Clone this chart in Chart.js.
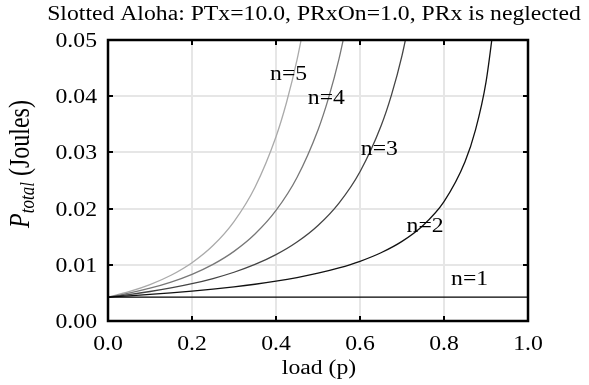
<!DOCTYPE html>
<html>
<head>
<meta charset="utf-8">
<script src="https://cdn.jsdelivr.net/npm/chart.js@4"></script>
<style>
html,body{margin:0;padding:0;background:#fff;}
#wrap{width:589px;height:385px;position:relative;}
</style>
</head>
<body>
<div id="wrap"><canvas id="c" width="589" height="385"></canvas></div>
<script>
// ---- data ----
const chartTitle = "Slotted Aloha: PTx=10.0, PRxOn=1.0, PRx is neglected";
const xTitle = "load (p)";
const seriesNames = ["n=1", "n=2", "n=3", "n=4", "n=5"];

const loadN1 = [0.0, 1.0];
const energyN1 = [0.00425, 0.00425];

const loadN2 = [0, 0.05, 0.1, 0.15, 0.2, 0.25, 0.3, 0.35, 0.4, 0.45, 0.5, 0.55, 0.6, 0.65, 0.7, 0.75, 0.8, 0.85, 0.875, 0.9, 0.925];
const energyN2 = [0.00425, 0.004474, 0.004722, 0.005, 0.005313, 0.005667, 0.006071, 0.006538, 0.007083, 0.007727, 0.0085, 0.009444, 0.010625, 0.012143, 0.014167, 0.017, 0.02125, 0.028333, 0.034, 0.0425, 0.05667];

const loadN3 = [0, 0.05, 0.1, 0.15, 0.2, 0.25, 0.3, 0.35, 0.4, 0.45, 0.5, 0.55, 0.6, 0.65, 0.675, 0.7, 0.725];
const energyN3 = [0.00425, 0.004709, 0.005247, 0.005882, 0.006641, 0.007556, 0.008673, 0.010059, 0.011806, 0.01405, 0.017, 0.020988, 0.026563, 0.034694, 0.040237, 0.047222, 0.056198];

const loadN4 = [0, 0.05, 0.1, 0.15, 0.2, 0.25, 0.3, 0.35, 0.4, 0.45, 0.5, 0.525, 0.55, 0.575];
const energyN4 = [0.00425, 0.004957, 0.00583, 0.00692, 0.008301, 0.010074, 0.012391, 0.015476, 0.019676, 0.025545, 0.034, 0.039656, 0.04664, 0.055363];

const loadN5 = [0, 0.05, 0.1, 0.15, 0.2, 0.25, 0.3, 0.35, 0.4, 0.425, 0.45, 0.475];
const energyN5 = [0.00425, 0.005218, 0.006478, 0.008142, 0.010376, 0.013432, 0.017701, 0.023809, 0.032793, 0.038879, 0.046445, 0.055944];

// label anchor points (data units) for the curve labels
const labelLoad = [0.861, 0.755, 0.646, 0.520, 0.430];
const labelEnergy = [0.00741, 0.01675, 0.03045, 0.03955, 0.04384];

const xTicks = [0, 0.2, 0.4, 0.6, 0.8, 1.0];
const xTickLabels = ["0.0", "0.2", "0.4", "0.6", "0.8", "1.0"];
const yTicks = [0, 0.01, 0.02, 0.03, 0.04, 0.05];
const yTickLabels = ["0.00", "0.01", "0.02", "0.03", "0.04", "0.05"];

// ---- styling ----
const FONT = "'Liberation Serif', 'Times New Roman', serif";
const SX = 1.185; // horizontal stretch of the reference's text
const SX_TICK = 1.13;
const lineColors = ["#000000", "#111111", "#444444", "#777777", "#aaaaaa"];

function pts(xs, ys) { return xs.map((x, i) => ({x: x, y: ys[i]})); }
const allX = [loadN1, loadN2, loadN3, loadN4, loadN5];
const allY = [energyN1, energyN2, energyN3, energyN4, energyN5];

const datasets = seriesNames.map((name, i) => ({
  label: name,
  data: pts(allX[i], allY[i]),
  borderColor: lineColors[i],
  borderWidth: 1.3,
  pointRadius: 0,
  fill: false,
  cubicInterpolationMode: 'monotone'
}));

function stretchText(ctx, text, x, y, align, baseline, sx) {
  ctx.save();
  ctx.translate(x, y);
  ctx.scale(sx || SX, 1);
  ctx.textAlign = align;
  ctx.textBaseline = baseline;
  ctx.fillText(text, 0, 0);
  ctx.restore();
}

const decorPlugin = {
  id: 'decor',
  afterDraw(chart) {
    const ctx = chart.ctx;
    const a = chart.chartArea;
    const xs = chart.scales.x, ys = chart.scales.y;
    ctx.save();
    // inner tick marks
    ctx.strokeStyle = '#000';
    ctx.lineWidth = 2;
    const tl = 5;
    xTicks.forEach(v => {
      const px = Math.round(xs.getPixelForValue(v));
      ctx.beginPath();
      ctx.moveTo(px, a.bottom); ctx.lineTo(px, a.bottom - tl);
      ctx.moveTo(px, a.top); ctx.lineTo(px, a.top + tl);
      ctx.stroke();
    });
    yTicks.forEach(v => {
      const py = Math.round(ys.getPixelForValue(v));
      ctx.beginPath();
      ctx.moveTo(a.left, py); ctx.lineTo(a.left + tl, py);
      ctx.moveTo(a.right, py); ctx.lineTo(a.right - tl, py);
      ctx.stroke();
    });
    // frame
    ctx.lineWidth = 2.5;
    ctx.strokeRect(a.left, a.top, a.right - a.left, a.bottom - a.top);

    ctx.fillStyle = '#000';
    // tick labels
    ctx.font = '21px ' + FONT;
    xTicks.forEach((v, i) => stretchText(ctx, xTickLabels[i], xs.getPixelForValue(v), 350, 'center', 'alphabetic', SX_TICK));
    yTicks.forEach((v, i) => stretchText(ctx, yTickLabels[i], 97, ys.getPixelForValue(v) + 7, 'right', 'alphabetic', SX_TICK));

    // curve labels
    ctx.font = '20px ' + FONT;
    seriesNames.forEach((name, i) => {
      stretchText(ctx, name, xs.getPixelForValue(labelLoad[i]), ys.getPixelForValue(labelEnergy[i]), 'center', 'middle');
    });

    // chart title
    stretchText(ctx, chartTitle, 314, 20, 'center', 'alphabetic');
    // x axis title
    stretchText(ctx, xTitle, 319, 374, 'center', 'alphabetic');

    // y axis title with subscript
    ctx.save();
    ctx.translate(29, 164);
    ctx.scale(SX, 1);
    ctx.rotate(-Math.PI / 2);
    const fMain = 'italic 24px ' + FONT;
    const fSub = 'italic 17px ' + FONT;
    const fNorm = '24px ' + FONT;
    ctx.font = fMain; const w1 = ctx.measureText('P').width;
    ctx.font = fSub; const w2 = ctx.measureText('total').width;
    ctx.font = fNorm; const w3 = ctx.measureText(' (Joules)').width;
    let x0 = -(w1 + w2 + w3) / 2;
    ctx.textAlign = 'left';
    ctx.textBaseline = 'alphabetic';
    ctx.font = fMain; ctx.fillText('P', x0, 0); x0 += w1;
    ctx.font = fSub; ctx.fillText('total', x0, 4); x0 += w2;
    ctx.font = fNorm; ctx.fillText(' (Joules)', x0, 0);
    ctx.restore();
    ctx.restore();
  }
};

new Chart(document.getElementById('c'), {
  type: 'line',
  data: { datasets: datasets },
  options: {
    responsive: false,
    animation: false,
    devicePixelRatio: 1,
    layout: { padding: { top: 40, right: 61, bottom: 0, left: 0 } },
    plugins: { legend: { display: false }, title: { display: false }, tooltip: { enabled: false } },
    scales: {
      x: {
        type: 'linear', min: 0, max: 1,
        afterFit(s) { s.height = 64; },
        afterBuildTicks(s) { s.ticks = xTicks.map(v => ({value: v})); },
        grid: { color: '#e6e6e6', lineWidth: 2, drawTicks: false },
        border: { display: false },
        ticks: { display: false }
      },
      y: {
        type: 'linear', min: 0, max: 0.05,
        afterFit(s) { s.width = 108; },
        afterBuildTicks(s) { s.ticks = yTicks.map(v => ({value: v})); },
        grid: { color: '#e6e6e6', lineWidth: 2, drawTicks: false },
        border: { display: false },
        ticks: { display: false }
      }
    }
  },
  plugins: [decorPlugin]
});
</script>
</body>
</html>
